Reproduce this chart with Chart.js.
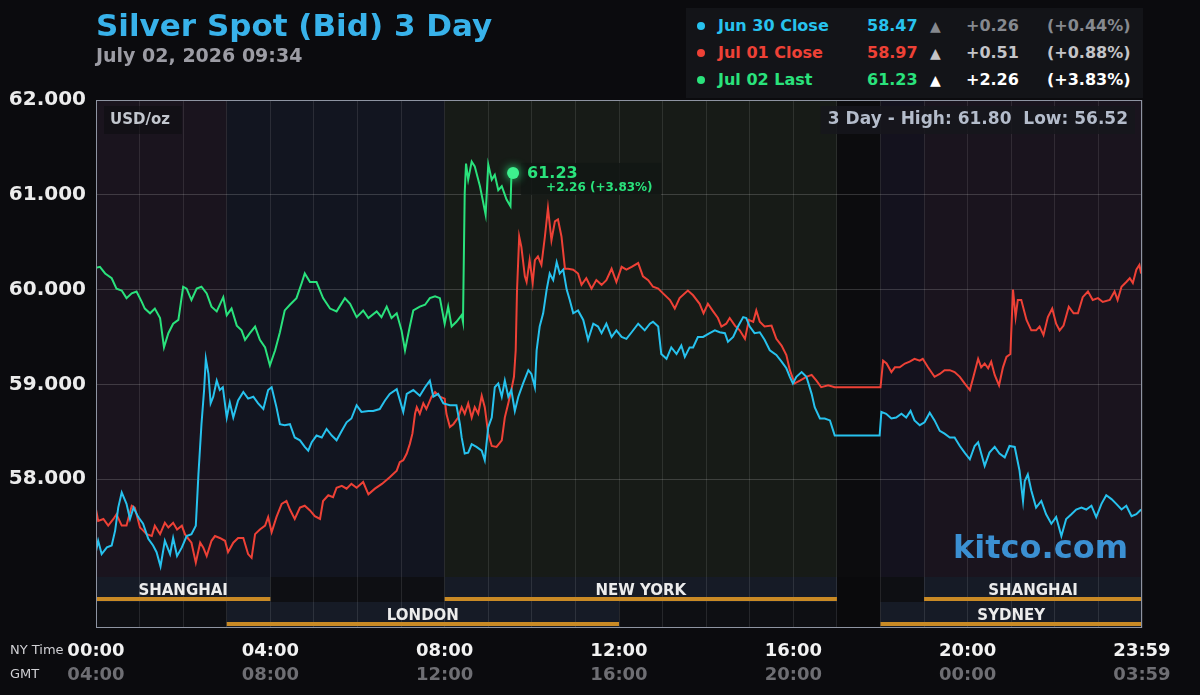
<!DOCTYPE html>
<html>
<head>
<meta charset="utf-8">
<script src="https://cdn.jsdelivr.net/npm/chart.js@4.4.1/dist/chart.umd.min.js"></script>
<style>
  body { margin: 0; background: #0b0b0e; font-family: "DejaVu Sans", sans-serif; }
  #wrap { position: relative; width: 1200px; height: 695px; overflow: hidden; }
  #chart { position: absolute; left: 0; top: 0; }
  .abs { position: absolute; white-space: nowrap; }
  #title { left: 96px; top: 7px; font-size: 31px; font-weight: bold; color: #38b2ea; }
  #date { left: 96px; top: 44px; font-size: 19px; font-weight: bold; color: #9c9ca4; }
  #legend { left: 686px; top: 8px; width: 457px; height: 90px; background: #131418; }
  #legend .cell { position: absolute; font-size: 16px; font-weight: bold; line-height: 18px; }
  #legend .dot { position: absolute; width: 8px; height: 8px; border-radius: 4px; }
  .axisNote { font-size: 13px; color: #d0d0d4; }
</style>
</head>
<body>
<div id="wrap">
  <canvas id="chart" width="1200" height="695"></canvas>
  <div id="title" class="abs">Silver Spot (Bid) 3 Day</div>
  <div id="date" class="abs">July 02, 2026 09:34</div>
  <div id="legend" class="abs"></div>
  <div class="abs axisNote" style="left:10px;top:642px;">NY Time</div>
  <div class="abs axisNote" style="left:10px;top:666px;">GMT</div>
</div>
<script>
// ---- data (NY time in hours, price in USD/oz) ----
const greenTimes = [0,0.09,0.21,0.36,0.47,0.59,0.70,0.82,0.93,1.05,1.12,1.24,1.35,1.47,1.56,1.66,1.77,1.89,2.00,2.08,2.19,2.31,2.42,2.54,2.65,2.77,2.92,3.00,3.11,3.23,3.34,3.42,3.53,3.65,3.76,3.88,3.99,4.11,4.22,4.33,4.45,4.60,4.72,4.79,4.91,5.06,5.21,5.37,5.52,5.71,5.83,5.98,6.13,6.25,6.44,6.55,6.67,6.78,6.90,7.01,7.09,7.20,7.28,7.43,7.55,7.66,7.78,7.89,8.00,8.08,8.16,8.27,8.39,8.42,8.46,8.49,8.54,8.62,8.69,8.81,8.94,9.00,9.08,9.15,9.23,9.31,9.42,9.51,9.53,9.57];
const greenVals = [60.23,60.24,60.17,60.12,60.01,59.99,59.91,59.96,59.98,59.87,59.80,59.75,59.80,59.70,59.39,59.54,59.64,59.68,60.03,60.01,59.89,60.01,60.03,59.96,59.82,59.77,59.92,59.73,59.80,59.62,59.57,59.47,59.54,59.61,59.47,59.39,59.20,59.36,59.55,59.78,59.84,59.91,60.07,60.17,60.08,60.08,59.91,59.80,59.77,59.91,59.85,59.71,59.78,59.70,59.77,59.71,59.82,59.70,59.75,59.57,59.36,59.61,59.78,59.82,59.84,59.91,59.93,59.91,59.64,59.82,59.61,59.66,59.73,59.66,61.02,61.33,61.16,61.35,61.30,61.09,60.79,61.32,61.16,61.21,61.05,61.09,60.95,60.88,61.18,61.23];

const blueTimes = [0,0.05,0.13,0.25,0.36,0.44,0.51,0.59,0.70,0.78,0.86,0.97,1.08,1.20,1.31,1.39,1.48,1.58,1.70,1.77,1.86,1.97,2.08,2.19,2.29,2.35,2.42,2.48,2.52,2.58,2.63,2.69,2.77,2.84,2.91,3.00,3.07,3.15,3.26,3.38,3.49,3.61,3.72,3.84,3.95,4.03,4.14,4.22,4.33,4.45,4.56,4.68,4.79,4.87,4.95,5.06,5.18,5.29,5.41,5.52,5.64,5.75,5.86,5.98,6.09,6.25,6.36,6.51,6.63,6.74,6.90,7.05,7.13,7.28,7.43,7.55,7.66,7.74,7.85,7.97,8.12,8.27,8.35,8.39,8.46,8.54,8.62,8.73,8.85,8.92,9.00,9.08,9.15,9.23,9.31,9.38,9.46,9.53,9.61,9.69,9.80,9.92,9.99,10.07,10.11,10.18,10.26,10.34,10.41,10.49,10.57,10.64,10.72,10.80,10.87,10.95,11.06,11.18,11.29,11.41,11.52,11.60,11.71,11.83,11.94,12.06,12.17,12.29,12.44,12.59,12.71,12.78,12.90,12.97,13.09,13.20,13.32,13.43,13.51,13.62,13.70,13.81,13.93,14.08,14.20,14.31,14.43,14.50,14.62,14.73,14.85,14.92,15.00,15.11,15.23,15.34,15.46,15.61,15.73,15.84,15.92,15.99,16.07,16.19,16.30,16.42,16.49,16.61,16.72,16.84,16.95,17.98,18.02,18.13,18.25,18.36,18.48,18.59,18.69,18.78,18.90,19.01,19.13,19.24,19.36,19.47,19.59,19.70,19.82,19.93,20.05,20.16,20.24,20.39,20.50,20.62,20.73,20.85,20.96,21.08,21.19,21.27,21.31,21.38,21.46,21.57,21.69,21.80,21.92,22.03,22.15,22.26,22.38,22.49,22.61,22.72,22.84,22.95,23.07,23.18,23.30,23.41,23.53,23.64,23.76,23.87,23.98];
const blueVals = [57.24,57.35,57.21,57.28,57.30,57.46,57.70,57.86,57.74,57.58,57.70,57.60,57.53,57.37,57.30,57.23,57.08,57.35,57.21,57.38,57.19,57.28,57.40,57.42,57.51,58.05,58.58,58.94,59.27,59.11,58.80,58.87,59.04,58.94,58.97,58.65,58.81,58.65,58.83,58.92,58.85,58.87,58.80,58.74,58.94,58.97,58.76,58.58,58.57,58.58,58.44,58.41,58.34,58.30,58.39,58.46,58.44,58.53,58.46,58.41,58.51,58.60,58.64,58.78,58.71,58.72,58.72,58.74,58.83,58.90,58.95,58.71,58.90,58.94,58.88,58.97,59.04,58.87,58.90,58.80,58.78,58.78,58.58,58.44,58.27,58.28,58.37,58.34,58.30,58.20,58.55,58.65,58.97,59.01,58.87,59.04,58.87,58.94,58.72,58.87,59.01,59.15,59.11,58.97,59.36,59.61,59.75,60.00,60.17,60.10,60.29,60.17,60.21,60.00,59.89,59.75,59.78,59.68,59.47,59.64,59.61,59.54,59.64,59.50,59.57,59.50,59.48,59.55,59.64,59.57,59.64,59.66,59.61,59.32,59.27,59.39,59.32,59.41,59.29,59.39,59.39,59.50,59.50,59.54,59.57,59.55,59.54,59.45,59.50,59.61,59.71,59.70,59.61,59.54,59.55,59.47,59.36,59.31,59.24,59.17,59.08,59.01,59.08,59.13,59.08,58.90,58.76,58.64,58.64,58.62,58.46,58.46,58.71,58.69,58.64,58.65,58.69,58.65,58.72,58.62,58.57,58.60,58.70,58.62,58.51,58.48,58.44,58.44,58.35,58.28,58.21,58.35,58.39,58.14,58.28,58.34,58.27,58.23,58.35,58.34,58.09,57.77,57.98,58.05,57.88,57.70,57.77,57.63,57.53,57.60,57.40,57.58,57.63,57.68,57.70,57.68,57.72,57.60,57.74,57.83,57.79,57.74,57.68,57.72,57.61,57.63,57.68];

const redTimes = [0,0.05,0.17,0.28,0.40,0.47,0.59,0.70,0.82,0.89,1.01,1.08,1.16,1.28,1.35,1.47,1.58,1.66,1.77,1.86,1.97,2.04,2.12,2.19,2.29,2.39,2.46,2.54,2.65,2.73,2.84,2.96,3.03,3.15,3.26,3.38,3.49,3.57,3.65,3.76,3.88,3.95,4.03,4.14,4.26,4.37,4.45,4.56,4.68,4.79,4.91,5.02,5.14,5.21,5.33,5.44,5.52,5.64,5.75,5.86,5.98,6.13,6.25,6.40,6.56,6.74,6.90,6.97,7.05,7.13,7.20,7.26,7.32,7.36,7.43,7.51,7.58,7.70,7.78,7.89,8.00,8.04,8.12,8.20,8.31,8.39,8.46,8.54,8.62,8.69,8.77,8.85,8.92,9.00,9.08,9.19,9.31,9.38,9.46,9.53,9.59,9.63,9.66,9.71,9.76,9.84,9.88,9.95,10.02,10.07,10.14,10.22,10.30,10.37,10.45,10.53,10.60,10.68,10.76,10.83,10.95,11.06,11.14,11.25,11.37,11.48,11.60,11.71,11.83,11.94,12.06,12.17,12.29,12.44,12.55,12.67,12.78,12.90,13.01,13.17,13.28,13.39,13.58,13.70,13.85,13.94,14.04,14.16,14.27,14.35,14.46,14.54,14.66,14.77,14.89,14.98,15.08,15.15,15.23,15.34,15.50,15.61,15.73,15.84,15.92,16.03,16.15,16.30,16.42,16.53,16.64,16.80,16.95,18.00,18.06,18.14,18.25,18.33,18.44,18.56,18.67,18.78,18.90,18.97,19.09,19.24,19.36,19.47,19.59,19.70,19.82,19.93,20.05,20.12,20.24,20.31,20.39,20.47,20.54,20.62,20.72,20.81,20.89,20.98,21.04,21.10,21.15,21.23,21.35,21.46,21.57,21.65,21.74,21.84,21.94,22.03,22.11,22.20,22.32,22.43,22.53,22.64,22.76,22.87,22.99,23.10,23.26,23.37,23.44,23.53,23.64,23.72,23.79,23.87,23.94,23.98];
const redVals = [57.68,57.56,57.58,57.51,57.58,57.63,57.51,57.51,57.72,57.70,57.49,57.46,57.42,57.40,57.51,57.42,57.54,57.49,57.54,57.47,57.51,57.42,57.37,57.33,57.12,57.33,57.28,57.19,57.35,57.40,57.38,57.35,57.23,57.33,57.38,57.38,57.21,57.17,57.42,57.47,57.51,57.60,57.44,57.60,57.74,57.77,57.68,57.58,57.70,57.72,57.67,57.61,57.58,57.77,57.83,57.81,57.91,57.93,57.90,57.95,57.91,57.97,57.84,57.90,57.95,58.02,58.09,58.18,58.20,58.27,58.37,58.48,58.69,58.76,58.69,58.80,58.74,58.87,58.92,58.87,58.85,58.69,58.55,58.58,58.65,58.76,58.69,58.80,58.65,58.76,58.69,58.88,58.76,58.48,58.35,58.34,58.41,58.65,58.80,58.94,59.08,59.36,59.99,60.56,60.45,60.14,60.08,60.31,60.07,60.31,60.35,60.26,60.56,60.86,60.52,60.72,60.74,60.56,60.22,60.22,60.21,60.17,60.05,60.12,60.01,60.10,60.05,60.10,60.22,60.08,60.24,60.21,60.24,60.28,60.14,60.10,60.03,60.01,59.96,59.89,59.80,59.91,59.99,59.94,59.85,59.75,59.85,59.77,59.70,59.61,59.64,59.70,59.62,59.57,59.48,59.68,59.66,59.78,59.66,59.61,59.62,59.48,59.41,59.31,59.15,59.01,59.04,59.08,59.10,59.04,58.97,58.99,58.97,58.97,59.25,59.22,59.13,59.18,59.18,59.22,59.24,59.27,59.25,59.27,59.18,59.08,59.11,59.15,59.15,59.13,59.08,59.01,58.94,59.06,59.27,59.18,59.22,59.17,59.24,59.10,58.99,59.18,59.29,59.32,60.00,59.71,59.89,59.89,59.68,59.57,59.57,59.61,59.52,59.71,59.80,59.64,59.57,59.62,59.82,59.75,59.75,59.92,59.98,59.89,59.91,59.87,59.89,59.98,59.89,60.03,60.08,60.12,60.07,60.21,60.26,60.17];

const yTicks = [58, 59, 60, 61, 62];
const nyHours = [0, 4, 8, 12, 16, 20];

const legendLabels = ['Jun 30 Close', 'Jul 01 Close', 'Jul 02 Last'];
const legendValues = ['58.47', '58.97', '61.23'];
const legendChanges = ['+0.26', '+0.51', '+2.26'];
const legendPcts = ['(+0.44%)', '(+0.88%)', '(+3.83%)'];

const threeDayHigh = '61.80';
const threeDayLow = '56.52';

const sessionNames = ['SHANGHAI', 'LONDON', 'NEW YORK', 'SYDNEY', 'SHANGHAI'];
const sessionStart = [0, 3, 8, 18, 19];
const sessionEnd = [4, 12, 17, 24, 24];
const sessionRow = [0, 1, 0, 1, 0];

// background bands behind the price lines (hours)
const bandStart = [0, 3, 8, 17, 18, 19];
const bandEnd = [3, 8, 17, 18, 19, 24];
const bandColor = ['#1a141e', '#121520', '#171b17', '#0c0c0e', '#14121e', '#1a141e'];

// ---- colours ----
const BLUE = '#27c2ee';
const RED = '#ee4136';
const GREEN = '#2ae27c';
const FONT = '"DejaVu Sans", sans-serif';

// ---- legend (html) ----
const legendColors = [BLUE, RED, GREEN];
const triColors = ['#86898f', '#c4c4c8', '#ffffff'];
const legend = document.getElementById('legend');
legendLabels.forEach((lab, i) => {
  const top = 9 + i * 27;
  legend.innerHTML += `
    <div class="dot" style="left:11px;top:${top + 5}px;background:${legendColors[i]}"></div>
    <div class="cell" style="left:32px;top:${top}px;color:${legendColors[i]}">${lab}</div>
    <div class="cell" style="left:181px;top:${top}px;color:${legendColors[i]}">${legendValues[i]}</div>
    <div class="cell" style="left:244px;top:${top}px;color:${triColors[i]};font-size:14px">&#9650;</div>
    <div class="cell" style="left:280px;top:${top}px;color:${triColors[i]}">${legendChanges[i]}</div>
    <div class="cell" style="left:361px;top:${top}px;color:${triColors[i]}">${legendPcts[i]}</div>`;
});

function toPoints(times, vals) {
  return times.map((t, i) => ({ x: t, y: vals[i] }));
}

function hhmm(h) {
  return String(h).padStart(2, '0') + ':00';
}

// ---- backgrounds, session bars, labels ----
const kitcoPlugin = {
  id: 'kitco',
  beforeDraw(chart) {
    const { ctx, chartArea: a, scales: { x } } = chart;
    const dataBottom = a.bottom - 51;
    ctx.save();
    ctx.fillStyle = '#0b0b0e';
    ctx.fillRect(0, 0, chart.width, chart.height);

    bandStart.forEach((s, i) => {
      const x0 = x.getPixelForValue(s);
      const x1 = x.getPixelForValue(bandEnd[i]);
      ctx.fillStyle = bandColor[i];
      ctx.fillRect(x0, a.top, x1 - x0, dataBottom - a.top);
    });

    ctx.fillStyle = '#0e0f13';
    ctx.fillRect(a.left, dataBottom, a.right - a.left, a.bottom - dataBottom);
    const brk0 = x.getPixelForValue(17), brk1 = x.getPixelForValue(18);
    ctx.fillStyle = '#0a0a0c';
    ctx.fillRect(brk0, dataBottom, brk1 - brk0, a.bottom - dataBottom);

    sessionNames.forEach((n, i) => {
      const x0 = x.getPixelForValue(sessionStart[i]);
      const x1 = x.getPixelForValue(sessionEnd[i]);
      const y0 = dataBottom + sessionRow[i] * 25;
      ctx.fillStyle = '#161b26';
      ctx.fillRect(x0, y0, x1 - x0, 25);
    });
    ctx.restore();
  },
  beforeDatasetsDraw(chart) {
    const { ctx, chartArea: a, scales: { x } } = chart;
    const dataBottom = a.bottom - 51;
    ctx.save();
    sessionNames.forEach((n, i) => {
      const x0 = x.getPixelForValue(sessionStart[i]);
      const x1 = x.getPixelForValue(sessionEnd[i]);
      const y0 = dataBottom + sessionRow[i] * 25;
      ctx.fillStyle = '#c98a25';
      ctx.fillRect(x0, y0 + 20, x1 - x0, 4);
      ctx.fillStyle = '#ececec';
      ctx.font = 'bold 15px ' + FONT;
      ctx.textAlign = 'center';
      ctx.textBaseline = 'middle';
      ctx.fillText(n, (x0 + x1) / 2, y0 + 14);
    });

    // watermark
    ctx.font = 'bold 32px ' + FONT;
    ctx.fillStyle = '#3b90d2';
    ctx.textAlign = 'right';
    ctx.textBaseline = 'middle';
    ctx.fillText('kitco.com', a.right - 14, dataBottom - 27);

    // USD/oz
    ctx.fillStyle = 'rgba(12,12,16,0.55)';
    ctx.fillRect(a.left + 8, a.top + 6, 78, 28);
    ctx.font = 'bold 15px ' + FONT;
    ctx.fillStyle = '#c2c6ce';
    ctx.textAlign = 'left';
    ctx.fillText('USD/oz', a.left + 14, a.top + 20);

    // 3 day high / low
    const hl = '3 Day - High: ' + threeDayHigh + '  Low: ' + threeDayLow;
    ctx.font = 'bold 17px ' + FONT;
    const w = ctx.measureText(hl).width;
    ctx.fillStyle = 'rgba(22,22,28,0.85)';
    ctx.fillRect(a.right - 14 - w - 7, a.top + 6, w + 14, 28);
    ctx.fillStyle = '#b4bccb';
    ctx.textAlign = 'right';
    ctx.fillText(hl, a.right - 14, a.top + 20);
    ctx.restore();
  },
  afterDatasetsDraw(chart) {
    const { ctx, chartArea: a } = chart;
    ctx.save();
    ctx.strokeStyle = '#8e94a2';
    ctx.lineWidth = 1;
    ctx.strokeRect(a.left + 0.5, a.top + 0.5, a.right - a.left - 1, a.bottom - a.top - 1);

    // last-price marker and note
    const meta = chart.getDatasetMeta(2);
    const pt = meta.data[meta.data.length - 1];
    ctx.fillStyle = 'rgba(18,22,20,0.85)';
    ctx.fillRect(pt.x + 8, pt.y - 10, 140, 32);
    ctx.shadowColor = GREEN;
    ctx.shadowBlur = 10;
    ctx.fillStyle = '#3ef08e';
    ctx.beginPath();
    ctx.arc(pt.x, pt.y, 6, 0, Math.PI * 2);
    ctx.fill();
    ctx.shadowBlur = 0;
    ctx.fillStyle = GREEN;
    ctx.textAlign = 'left';
    ctx.textBaseline = 'middle';
    ctx.font = 'bold 16px ' + FONT;
    ctx.fillText(legendValues[2], pt.x + 14, pt.y + 1);
    ctx.font = 'bold 12px ' + FONT;
    ctx.fillText(legendChanges[2] + ' ' + legendPcts[2], pt.x + 33, pt.y + 15);
    ctx.restore();
  }
};

const lineStyle = { borderWidth: 2, pointRadius: 0, tension: 0, fill: false };

new Chart(document.getElementById('chart'), {
  type: 'line',
  data: {
    datasets: [
      { label: legendLabels[0], data: toPoints(blueTimes, blueVals), borderColor: BLUE, ...lineStyle },
      { label: legendLabels[1], data: toPoints(redTimes, redVals), borderColor: RED, ...lineStyle },
      { label: legendLabels[2], data: toPoints(greenTimes, greenVals), borderColor: GREEN, ...lineStyle }
    ]
  },
  options: {
    responsive: false,
    animation: false,
    devicePixelRatio: 1,
    layout: { padding: { top: 100, right: 58, left: 0, bottom: 0 } },
    plugins: { legend: { display: false }, tooltip: { enabled: false } },
    scales: {
      y: {
        min: 56.43,
        max: 62,
        afterFit: s => { s.width = 96; },
        afterBuildTicks: s => { s.ticks = yTicks.map(v => ({ value: v })); },
        border: { display: false },
        grid: { color: 'rgba(255,255,255,0.17)', drawTicks: false },
        ticks: {
          padding: 10,
          color: '#ececec',
          font: { family: FONT, size: 20, weight: 'bold' },
          callback: v => v.toFixed(3)
        }
      },
      x: {
        type: 'linear',
        min: 0,
        max: 24,
        weight: 1,
        afterFit: s => { s.height = 28; },
        border: { display: false },
        grid: { color: 'rgba(255,255,255,0.1)', drawTicks: false },
        ticks: {
          stepSize: 1,
          autoSkip: false,
          maxRotation: 0,
          padding: 13,
          color: '#f2f2f2',
          font: { family: FONT, size: 18, weight: 'bold' },
          callback: v => v === 24 ? '23:59' : (nyHours.includes(v) ? hhmm(v) : '')
        }
      },
      x2: {
        type: 'linear',
        position: 'bottom',
        min: 0,
        max: 24,
        weight: 2,
        afterFit: s => { s.height = 39; },
        border: { display: false },
        grid: { display: false, drawTicks: false },
        ticks: {
          stepSize: 1,
          autoSkip: false,
          maxRotation: 0,
          padding: 9,
          color: '#6e6e73',
          font: { family: FONT, size: 18, weight: 'bold' },
          callback: v => v === 24 ? '03:59' : (nyHours.includes(v) ? hhmm((v + 4) % 24) : '')
        }
      }
    }
  },
  plugins: [kitcoPlugin]
});
</script>
</body>
</html>
